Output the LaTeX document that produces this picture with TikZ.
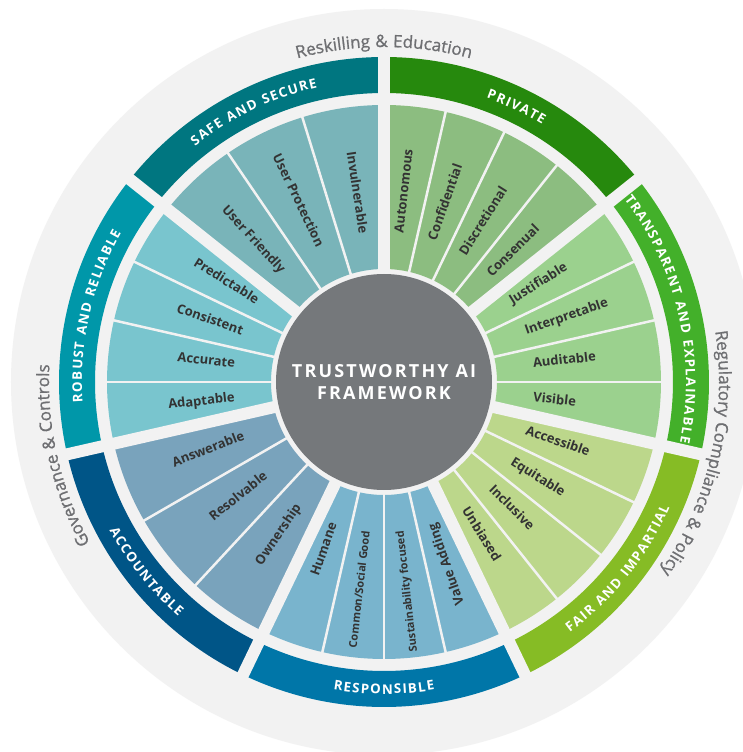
\documentclass[tikz,border=0pt]{standalone}
\usepackage{fontspec}
\setmainfont{Open Sans}
\newfontfamily\hubfont[LetterSpace=12]{Open Sans}
\newfontfamily\ringfamily[FakeBold=1]{Open Sans}

\definecolor{ringgrey}{HTML}{F2F2F2}
\definecolor{hubgrey}{HTML}{75787B}
\definecolor{ringtext}{HTML}{6E6F72}
\definecolor{labeltext}{HTML}{333333}
\definecolor{privategreen}{HTML}{26890D}
\definecolor{transgreen}{HTML}{43B02A}
\definecolor{fairgreen}{HTML}{86BC25}
\definecolor{respblue}{HTML}{0076A8}
\definecolor{acctblue}{HTML}{005587}
\definecolor{robustteal}{HTML}{0097A9}
\definecolor{safeteal}{HTML}{007680}

\newcommand\bandfont{\bfseries\fontsize{13.3}{15}\selectfont\color{white}}
\newcommand\ringfont{\ringfamily\fontsize{17}{20}\selectfont\color{ringtext}}
\newcommand\smallitem{\fontsize{11}{13}\selectfont}

% letters set one by one on a circle:
% #1 radius, #2 centre angle, #3 1 = clockwise (tops out) / -1 = anticlockwise (tops in),
% #4 extra letter space, #5 font, #6 text
\ExplSyntaxOn
\box_new:N \l_arc_char_box
\dim_new:N \l_arc_total_dim
\fp_new:N \l_arc_pos_fp
\fp_new:N \l_arc_mid_fp
\tl_new:N \l_arc_x_tl
\tl_new:N \l_arc_y_tl
\tl_new:N \l_arc_rot_tl
\cs_new_protected:Npn \arc_measure:nn #1#2
  {
    \hbox_set:Nn \l_arc_char_box
      {
        \pgfinterruptpicture #1
        \str_if_eq:nnTF {#2} {~} { \skip_horizontal:n { 0.3em } } { #2 }
        \endpgfinterruptpicture
      }
  }
\NewDocumentCommand \arctext { m m m m m m }
  {
    \dim_set:Nn \l_arc_total_dim { -#4 }
    \str_map_inline:nn {#6}
      {
        \arc_measure:nn {#5} {##1}
        \dim_add:Nn \l_arc_total_dim { \box_wd:N \l_arc_char_box + #4 }
      }
    \fp_set:Nn \l_arc_pos_fp
      { #2 + (#3) * \dim_to_fp:n { \l_arc_total_dim } / (2 * (#1)) * 180 / pi }
    \str_map_inline:nn {#6}
      {
        \arc_measure:nn {#5} {##1}
        \fp_set:Nn \l_arc_mid_fp
          { \l_arc_pos_fp - (#3) * \dim_to_fp:n { \box_wd:N \l_arc_char_box } / (2 * (#1)) * 180 / pi }
        \tl_set:Nx \l_arc_x_tl { \fp_eval:n { (#1) * cosd ( \l_arc_mid_fp ) } }
        \tl_set:Nx \l_arc_y_tl { \fp_eval:n { (#1) * sind ( \l_arc_mid_fp ) } }
        \tl_set:Nx \l_arc_rot_tl { \fp_eval:n { \l_arc_mid_fp - 90 * (#3) } }
        \str_if_eq:nnF {##1} {~}
          {
            \node [ inner~sep=0pt, anchor=base, rotate=\l_arc_rot_tl ]
              at ( \l_arc_x_tl , \l_arc_y_tl ) { #5 ##1 };
          }
        \fp_set:Nn \l_arc_pos_fp
          { \l_arc_pos_fp - (#3) * \dim_to_fp:n { \box_wd:N \l_arc_char_box + #4 } / (#1) * 180 / pi }
      }
  }
\ExplSyntaxOff

\tikzset{
  gap/.style={ringgrey, line width=12pt},
  seam/.style={ringgrey, line width=2.5pt},
  item/.style={font=\bfseries\fontsize{13}{15}\selectfont, text=labeltext, inner sep=0pt},
  hub/.style={circle, fill=hubgrey, minimum size=216pt, inner sep=0pt, text=white,
    align=center, font=\hubfont\bfseries\fontsize{18}{22}\selectfont},
}

\begin{document}
\begin{tikzpicture}[x=1pt, y=1pt]
\useasboundingbox (-384,-370) rectangle (359,382);
\clip (-384,-370) rectangle (359,382);
\fill[white] (-384,-370) rectangle (359,382);
\fill[ringgrey] (0,0) circle[radius=373];

% seven pillars, clockwise from the top
\foreach \k/\col in {0/privategreen, 1/transgreen, 2/fairgreen, 3/respblue,
                     4/acctblue, 5/robustteal, 6/safeteal}{
  \pgfmathsetmacro\from{90-51.4286*\k}
  \pgfmathsetmacro\to{\from-51.4286}
  \fill[\col] (\from:289) arc[start angle=\from, end angle=\to, radius=289]
    -- (\to:325) arc[start angle=\to, end angle=\from, radius=325] -- cycle;
  \fill[\col!50!ringgrey] (\from:113) arc[start angle=\from, end angle=\to, radius=113]
    -- (\to:277) arc[start angle=\to, end angle=\from, radius=277] -- cycle;
}

% gaps between pillars and seams between the items
\foreach \ang in {90, 38.571, -12.857, -64.286, -115.714, -167.143, -218.571}
  \draw[gap] (\ang:100) -- (\ang:332);
\foreach \ang in {77.143, 64.286, 51.429, 25.714, 12.857, 0, -25.714, -38.571, -51.429,
                -77.143, -90, -102.857, -132.857, -150, -180, -192.857, -205.714,
                -235.714, -252.857}
  \draw[seam] (\ang:110) -- (\ang:281);

% pillar names along the bands
\arctext{302}{64.286}{1}{1.3pt}{\bandfont}{PRIVATE}
\arctext{302}{12.857}{1}{1.3pt}{\bandfont}{TRANSPARENT AND EXPLAINABLE}
\arctext{312}{-38.571}{-1}{1.3pt}{\bandfont}{FAIR AND IMPARTIAL}
\arctext{312}{-90}{-1}{1.3pt}{\bandfont}{RESPONSIBLE}
\arctext{312}{-141.429}{-1}{1.3pt}{\bandfont}{ACCOUNTABLE}
\arctext{302}{167.143}{1}{1.3pt}{\bandfont}{ROBUST AND RELIABLE}
\arctext{302}{115.714}{1}{1.3pt}{\bandfont}{SAFE AND SECURE}

% items, read outwards
\foreach \ang/\txt [count=\n] in {83.571/Autonomous, 70.714/Confidential,
    57.857/Discretional, 45/Consenual, 32.143/Justifiable, 19.286/Interpretable,
    6.429/Auditable, -6.429/Visible, -19.286/Accessible, -32.143/Equitable,
    -45/Inclusive, -57.857/Unbiased}
  \node[item, anchor=mid west, rotate=\ang] (out\n) at (\ang:150) {\txt};

% items, read inwards
\foreach \ang/\txt [count=\n] in {-70.714/Value Adding,
    -83.571/{\smallitem Sustainability focused}, -96.429/{\smallitem Common/Social Good},
    -109.286/Humane, -124.286/Ownership, -141.429/Resolvable, -158.571/Answerable,
    -173.571/Adaptable, -186.429/Accurate, -199.286/Consistent, -212.143/Predictable,
    -227.143/User Friendly, -244.286/User Protection, -261.429/Invulnerable}
  \node[item, anchor=mid east, rotate=\ang+180] (in\n) at (\ang:150) {\txt};

% outer ring
\arctext{335}{90}{1}{0pt}{\ringfont}{Reskilling & Education}
\arctext{335}{-12.857}{1}{0pt}{\ringfont}{Regulatory Compliance & Policy}
\arctext{335}{192.857}{1}{0pt}{\ringfont}{Governance & Controls}

\node[hub] (core) at (0,0) {TRUSTWORTHY AI\\FRAMEWORK};
\end{tikzpicture}
\end{document}
